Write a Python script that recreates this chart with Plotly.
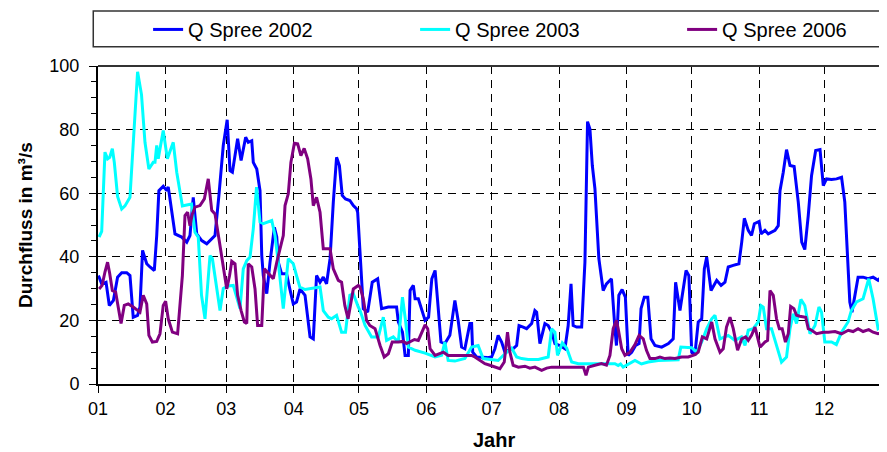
import pandas as pd
import plotly.graph_objects as go

# ---- data: day of year (0 = 1 Jan) and discharge in m³/s ----
days_2002 = [0.2,1.7,3.7,5.2,7.1,9,10.9,13.2,14.7,16.2,18.2,19.3,20.5,22.4,23.9,25.9,27,28,30,31.6,32.3,33.9,35.4,38.5,40.8,42.3,43.8,45.4,47.7,50,51.5,53.8,55.6,57.6,59.4,
             60.7,61.8,64.2,65.8,67.9,69.1,70.7,71.4,73,74.5,75.3,76,77.6,79.1,81.1,82.2,82.9,84.4,86.7,88.2,89.8,91.3,92.9,95.2,97.5,99,100.5,102.1,103.6,105.1,106.7,108.2,109.7,111,112.3,113.8,115.8,117.4,118.9,
             119.4,120.5,122,124,126.1,128.6,130.4,133.5,137.3,138.1,140,141.2,142.7,143.5,145,145.8,147.3,150.4,152,153.5,155,156.2,157.7,159.5,161.8,164.1,165.7,167.2,168.7,171,171.8,172.3,174.1,179,
             181,182.5,184,185.6,187.1,188.6,190.9,192.5,193.6,195.5,197.1,199.4,200.9,201.7,203.2,205.5,207,208.6,210.1,212.4,214.7,216.2,217.5,218.5,220.1,222.4,223.9,225.1,226.2,227.3,228.5,230.3,232.3,233.8,236.1,237.7,238.4,
             239.5,241,242.5,243.8,245.4,247.2,248.8,249.7,251.2,252.8,254.3,256.1,259.2,262.3,264.5,265.6,267.6,269.1,270.4,271.7,273,274.5,276,277.6,278.8,279.9,281.9,284.5,286.5,288.3,289.8,292.1,294.7,296,297.2,299,
             300.5,301.8,304,304.9,306.7,308.2,309.7,311.3,312.8,313.6,315.1,316.6,318.2,320.1,322,323.6,325,326.6,328.1,330,332,333.5,335,337.3,339.6,341.9,343.4,344.6,345.7,346.7,349.5,351.8,354.1,356.4,358.7,360.7,361.7,362.7]
q_2002 = [34.1,31.5,32,24.7,26.3,33.6,35,35,34.1,21,21.6,24.2,42,37.8,36.8,35.7,46.7,60.8,62.2,60.8,62,54,47.2,46.2,44.6,46.7,58.7,47.2,45.1,44.1,45.1,46.7,59.3,75,83.1,
          67.1,66.6,77.1,70.3,77.6,76,76.5,69.7,67.6,60.8,40.4,34.1,28.4,38.3,49.3,46.2,38.3,34.7,34.7,29.9,25.2,25.8,29.9,27.9,14.8,14.2,34.1,32,33.6,31.5,39.4,57.2,71.3,68.7,59.3,58.2,57.7,56.1,55.1,
          54,39.4,23.7,22.6,32,33.1,23.7,24.2,24.2,19.5,16.3,9,9,29.4,31,26.8,26.8,20,21,33.1,35.7,25.8,13.2,12.7,15.3,26.3,19.5,11.6,11.1,19,19,10,8.5,8.3,
          8.5,11.1,15.3,13.2,10,10.6,11.1,12.1,18.4,17.9,17.4,19,23.1,22.6,12.7,19,18.4,16.3,12.7,12.1,11.1,18.4,31.5,18.4,17.9,17.9,38.3,82.5,80.2,68.7,61.4,39.4,29.4,31.5,33.1,17.4,12.1,
          27.9,29.7,27.3,9,10,12.1,12.7,23.7,27.3,27.3,14.2,12.1,11.6,12.7,14.2,32,23.1,29.9,35.7,34.1,10,9.5,19.5,20.5,36.2,39.9,29.4,32.6,31,32,36.8,37.3,37.8,44.6,52.1,48.3,
          46.7,50.4,51.1,47.2,48.3,47.2,47.7,48.3,49.8,60.8,66.6,73.7,68.7,68.4,57.2,44.6,42.3,53,65.5,73.4,73.7,62.4,64.5,64.3,64.5,65,57.2,42.5,25.8,22.6,33.6,33.6,33.1,33.6,32.6,34.1,38.3,44.1]

days_2003 = [0.5,1.7,3.2,4.4,5.4,6.6,7.5,9,10.9,12.4,14.7,16.2,18.2,20,21.6,23.4,25.4,26.2,27,27.7,30,31.9,33.1,34.6,36.2,38.8,40.8,43,44.6,46.1,47.6,49.2,51.5,52.6,56.1,57.6,59.9,
             62.2,65.3,66.8,68.4,69.9,71.4,72.9,74.5,76,79.9,81.4,82.9,85.2,87.5,89.8,91.3,92.8,95.2,98.2,102.1,103.6,105.9,107.4,109.7,112,113.8,115.8,117.4,119.7,
             120.5,122.8,125.8,128.9,131.2,132.7,135.8,138.1,140,141.5,142.7,145.8,150.4,155,158,159.5,161,164.1,167.2,168.7,171.8,174.8,177.1,
             181,184,187.1,190.2,192.5,194.8,197.8,202.5,207,208.6,210.1,211.3,213.5,215.5,217.8,220.9,227,233.1,237.7,
             239.2,240.3,241.5,243.8,246.9,249.9,253,257.6,262.2,266.8,268,273,275.3,277.6,279.9,282.2,283.7,286,289.8,292.9,295.9,297.5,299,
             301.3,303.6,304.8,305.9,307.4,309.7,312,314.3,316.6,318.2,319.7,321.2,323.2,325,327.4,329.7,331.5,332.7,334.2,337.3,339.5,341.9,344.9,346.4,348.8,351.8,354.4,356.4,358.7,361,362.7]
q_2003 = [46.2,48,72.9,70.8,71.3,74,69.7,59,55,56,58.7,75,98.2,91,76,67.6,69.7,69.7,75,70.8,79.7,70.8,72.9,76,66.6,56,56.3,56.6,47.7,46.2,27.9,20.5,40.4,39.4,23.1,30,30.8,
          31,23.7,36.2,38.8,39.9,48.8,61.9,50.9,50.4,51.4,46.7,38.3,23.7,39.4,37.8,34.1,30.5,29.7,30,30.5,23.1,21,20.5,21.6,16.3,16.3,27.9,28.4,24.2,
          23.1,18.4,14.8,14.8,21,13.7,14.8,13.2,27.3,19.5,11.6,10.6,9.7,8.5,9,13.2,7.4,7.2,7.7,8,11.6,12.1,8,
          7.6,7.4,9.5,11.3,8.5,8,7.7,7.7,8.5,17.4,16.3,9,12.9,11.3,6.9,6.4,6.4,6.4,6.4,
          5.8,6.3,5.3,6.3,7.4,6.3,6.9,7.4,7.6,7.6,11.6,11.4,10,13.2,17.4,20.5,21.6,14.2,15.3,13.7,14.8,12.1,16.9,
          17.4,19.5,24.7,24.2,17.4,17.4,12.1,6.9,8.5,17.4,22.1,19,26.6,24.7,15.8,18.4,24.2,22.6,13.2,13.2,12.4,16.3,19.5,23.1,25.8,26.8,33.1,26.8,17.4,18.4,20.5]

days_2006 = [0.5,1.9,3.2,4.4,5.4,6.6,8.1,9.7,10.6,12.1,13.9,16.2,19.3,20.8,22.4,23.4,25,27,28.5,30,31.1,32.3,34.2,36.6,37.7,38.8,40,41.2,42.3,43.4,44.6,46.9,48.9,50.7,52.3,53.8,55.6,57.2,59.2,
             60.5,61.5,63,64.2,65.8,67.3,68.4,69.1,70.7,72.2,73.4,75.3,76.5,78.3,80.6,82.2,83.7,85.2,86,87.5,88.7,90.3,91.8,93.3,94.8,96.4,97.9,99,100.5,102.1,103.6,105.1,106.7,108.2,110.5,112,113.5,115,117.4,119.7,
             120.5,122,123.5,125,127.4,129.7,131.6,133.5,135.3,138.1,140.3,141.9,143.5,145.5,147.3,148.8,150.4,151.6,152.7,155,157.3,158.8,161,163.4,165.7,168.7,171.8,173.3,175.6,177.9,
             180.2,182.5,184.8,186.8,188.3,189.4,190.9,193.3,196.3,198.6,200.9,204,206.3,208.6,212.4,216.2,220.9,223.2,224.4,225.5,228.5,231.5,233.8,235.4,236.9,238.4,
             239.2,240.8,242.3,244.6,246.9,248.8,250.7,252.2,253.8,256.1,258.4,260.7,263,265.3,268.4,271.4,274.5,276,277.9,279.9,282.2,283.7,286,287.5,289,290.6,292.1,294.1,296,297.8,
             299,300.5,302.1,303.6,304.4,306.7,307.9,309,310.5,312,313.3,314.6,316.1,317.4,318.5,320,321.2,322.7,325.4,326.6,328.1,330.4,333.5,335.8,338.9,341.9,345,347.2,349.5,351.8,354.4,356.4,358.7,361,362.7]
q_2006 = [29.9,31,35.2,38.3,34.7,29.4,28.9,21.6,19,24.7,25.2,24.2,22.6,27.9,25.2,15.3,13.2,13.4,15.8,24.7,26,20.5,16.3,15.8,25.8,34.1,53,54,49.8,53.5,55.6,56.1,58.2,64.5,54.6,53.5,45.7,38.3,29.9,
          34.1,38.6,37.8,27.9,23.1,19.5,19,37.8,36.8,29.9,18.4,18.4,36.2,34.7,33.1,38.3,43,46.7,56.1,59.8,69.7,75.7,75.5,71.8,74.1,70.8,64.5,56.1,58.7,54,42.5,42.5,42.5,36.2,32.6,32,24.7,20.5,29.9,31,
          30.5,26.8,20,18.4,17.4,12.1,8.5,9.5,13.2,13.2,13.4,12.7,13.2,14,13.7,16.3,18.6,17.4,11.1,9,9.5,10,9,9,9.2,9,9,8.5,7.4,6.4,
          5.9,5.3,4.8,6.9,16.3,10,5.9,5.3,5.6,5,5.3,4.3,5,5.3,5.3,5.3,5.3,5.3,2.7,5.3,5.9,6.4,5.9,9,17.4,20,
          17.4,11.1,9,10,12.4,15.3,14.2,10.6,8,8,8.5,8,8.2,8,8.5,8.5,9.2,10,14.8,14.2,19.5,14.2,10,11.1,17.9,21,17.4,10.6,14.2,14.8,
          13.7,15.3,17.9,14.2,11.6,13.2,13.7,29.4,27.9,20.5,17.4,17.4,13.2,15.8,24.4,23.7,21.6,21.3,21,17.4,16.9,15.8,16.3,16.3,16.5,15.8,16.9,16.5,17.4,16.5,17.1,16.3,15.8,16.1,15.5]

series_names = ["Q Spree 2002", "Q Spree 2003", "Q Spree 2006"]
series_colors = ["#0000FF", "#00FFFF", "#800080"]
month_labels = ["01", "02", "03", "04", "05", "06", "07", "08", "09", "10", "11", "12"]

BASE = pd.Timestamp("2002-01-01")


def to_dates(days):
    return BASE + pd.to_timedelta(days, unit="D")


fig = go.Figure()
legend_widths = [222, 222, 140]
for name, col, d, q, lw in zip(series_names, series_colors,
                               [days_2002, days_2003, days_2006],
                               [q_2002, q_2003, q_2006], legend_widths):
    fig.add_trace(go.Scatter(x=to_dates(d), y=q, mode="lines", name=name,
                             legendwidth=lw,
                             line=dict(color=col, width=3)))

FONT = "Liberation Sans, Arial, sans-serif"
tickvals = [BASE + pd.DateOffset(months=i) for i in range(12)]

# the page body adds an 8 px offset, so the figure is 8 px smaller and margins shifted
fig.update_layout(
    width=879, height=444,
    margin=dict(l=90, r=0, t=58, b=68, autoexpand=False),
    paper_bgcolor="white", plot_bgcolor="white",
    font=dict(family=FONT, size=18, color="black"),
    showlegend=True,
    legend=dict(orientation="h", x=0.0635, xanchor="left", y=1.115, yanchor="middle",
                entrywidth=222, entrywidthmode="pixels",
                font=dict(size=20, color="black"), bgcolor="rgba(0,0,0,0)",
                borderwidth=0, itemwidth=30),
    xaxis=dict(
        type="date",
        range=[BASE, BASE + pd.Timedelta(days=362.8)],
        tickvals=tickvals, ticktext=month_labels,
        ticks="outside", ticklen=7, tickwidth=1, tickcolor="black",
        showline=True, linecolor="black", linewidth=2,
        showgrid=True, gridcolor="black", gridwidth=1, griddash="8px,6px",
        zeroline=False, tickfont=dict(size=18, color="black"),
    ),
    yaxis=dict(
        range=[0, 100], dtick=20, tick0=0,
        ticks="outside", ticklen=7, tickwidth=1, tickcolor="black",
        minor=dict(dtick=5, ticks="outside", ticklen=5, tickcolor="black", showgrid=False),
        showline=True, linecolor="black", linewidth=2,
        showgrid=True, gridcolor="black", gridwidth=1, griddash="8px,6px",
        zeroline=False, tickfont=dict(size=18, color="black"),
        ticklabelstandoff=6,
    ),
    shapes=[
        dict(type="line", xref="paper", yref="paper", x0=0, x1=1.01, y0=1, y1=1,
             line=dict(color="#333333", width=2)),
        dict(type="rect", xref="paper", yref="paper", x0=-0.006, x1=1.02, y0=1.0607, y1=1.173,
             line=dict(color="#333333", width=1.5), fillcolor="rgba(0,0,0,0)"),
    ],
    annotations=[
        dict(text="<b>Durchfluss in m³/s</b>", xref="paper", yref="paper", x=-0.0925, y=0.5,
             textangle=-90, showarrow=False, xanchor="center", yanchor="middle",
             font=dict(size=19, color="black", family=FONT)),
        dict(text="<b>Jahr</b>", xref="paper", yref="paper", x=0.502, y=-0.176,
             showarrow=False, xanchor="center", yanchor="middle",
             font=dict(size=20, color="black", family=FONT)),
    ],
)

fig.write_html("out.html")
